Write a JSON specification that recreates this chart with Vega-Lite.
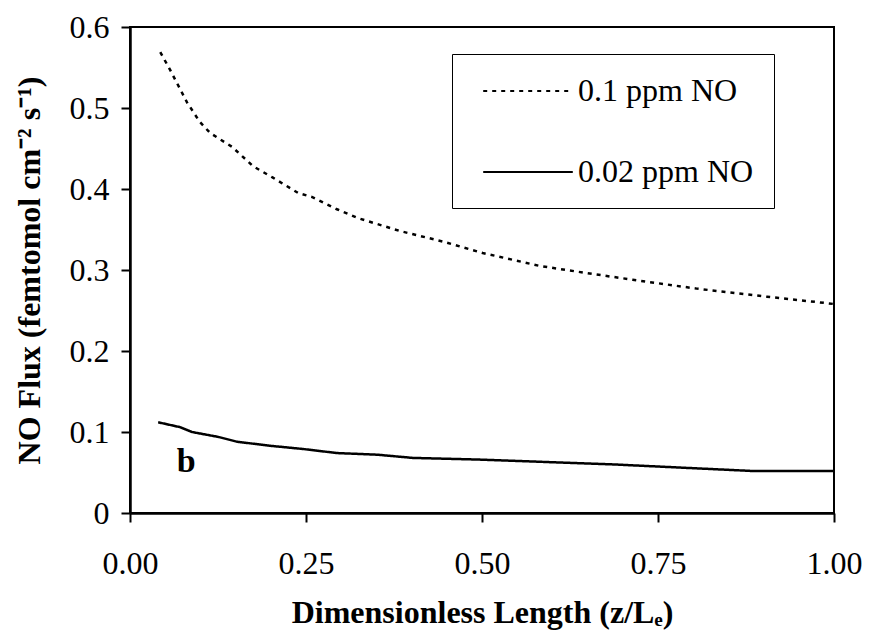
{
  "$schema": "https://vega.github.io/schema/vega-lite/v6.json",
  "width": 704,
  "height": 486,
  "autosize": {"type": "none"},
  "padding": {"left": 130, "top": 27, "right": 36, "bottom": 122},
  "background": "white",
  "config": {
    "font": "Liberation Serif",
    "view": {"stroke": "black", "strokeWidth": 2},
    "axis": {
      "grid": false,
      "domainColor": "black",
      "domainWidth": 2.5,
      "tickColor": "black",
      "tickWidth": 2,
      "tickSize": 9,
      "labelFontSize": 32,
      "labelColor": "black",
      "labelFlush": false,
      "labelOverlap": false,
      "labelBound": false,
      "titleFontSize": 32,
      "titleFontWeight": "bold",
      "titleColor": "black"
    },
    "legend": {
      "orient": "none",
      "legendX": 322,
      "legendY": 27,
      "strokeColor": "black",
      "fillColor": "white",
      "padding": 20,
      "symbolOffset": 39,
      "symbolType": "M-2.8,0L2.8,0",
      "symbolSize": 1024,
      "symbolStrokeWidth": 2,
      "symbolStrokeColor": "black",
      "labelFont": "Liberation Serif",
      "labelFontSize": 32,
      "labelColor": "black",
      "labelLimit": 400,
      "labelOffset": 33,
      "rowPadding": 48
    }
  },
  "datasets": {
    "curves": [
      {"series": "0.1 ppm NO", "z": 0.043, "flux": 0.569},
      {"series": "0.1 ppm NO", "z": 0.057, "flux": 0.547},
      {"series": "0.1 ppm NO", "z": 0.081, "flux": 0.507},
      {"series": "0.1 ppm NO", "z": 0.099, "flux": 0.483},
      {"series": "0.1 ppm NO", "z": 0.114, "flux": 0.469},
      {"series": "0.1 ppm NO", "z": 0.145, "flux": 0.452},
      {"series": "0.1 ppm NO", "z": 0.175, "flux": 0.428},
      {"series": "0.1 ppm NO", "z": 0.203, "flux": 0.414},
      {"series": "0.1 ppm NO", "z": 0.239, "flux": 0.395},
      {"series": "0.1 ppm NO", "z": 0.259, "flux": 0.39},
      {"series": "0.1 ppm NO", "z": 0.294, "flux": 0.375},
      {"series": "0.1 ppm NO", "z": 0.324, "flux": 0.364},
      {"series": "0.1 ppm NO", "z": 0.384, "flux": 0.348},
      {"series": "0.1 ppm NO", "z": 0.445, "flux": 0.335},
      {"series": "0.1 ppm NO", "z": 0.501, "flux": 0.321},
      {"series": "0.1 ppm NO", "z": 0.582, "flux": 0.305},
      {"series": "0.1 ppm NO", "z": 0.658, "flux": 0.295},
      {"series": "0.1 ppm NO", "z": 0.714, "flux": 0.288},
      {"series": "0.1 ppm NO", "z": 0.805, "flux": 0.277},
      {"series": "0.1 ppm NO", "z": 0.905, "flux": 0.267},
      {"series": "0.1 ppm NO", "z": 0.98, "flux": 0.26},
      {"series": "0.1 ppm NO", "z": 1.0, "flux": 0.258},
      {"series": "0.02 ppm NO", "z": 0.04, "flux": 0.112},
      {"series": "0.02 ppm NO", "z": 0.071, "flux": 0.106},
      {"series": "0.02 ppm NO", "z": 0.088, "flux": 0.1},
      {"series": "0.02 ppm NO", "z": 0.125, "flux": 0.094},
      {"series": "0.02 ppm NO", "z": 0.152, "flux": 0.088},
      {"series": "0.02 ppm NO", "z": 0.199, "flux": 0.083},
      {"series": "0.02 ppm NO", "z": 0.246, "flux": 0.079},
      {"series": "0.02 ppm NO", "z": 0.294, "flux": 0.074},
      {"series": "0.02 ppm NO", "z": 0.351, "flux": 0.072},
      {"series": "0.02 ppm NO", "z": 0.402, "flux": 0.068},
      {"series": "0.02 ppm NO", "z": 0.494, "flux": 0.066},
      {"series": "0.02 ppm NO", "z": 0.686, "flux": 0.06},
      {"series": "0.02 ppm NO", "z": 0.881, "flux": 0.052},
      {"series": "0.02 ppm NO", "z": 1.0, "flux": 0.052}
    ],
    "annot": [
      {"z": 0.08, "flux": 0.051, "label": "b"}
    ]
  },
  "layer": [
    {
      "data": {"name": "curves"},
      "mark": {"type": "line", "color": "black", "strokeWidth": 2.5},
      "encoding": {
        "x": {
          "field": "z",
          "type": "quantitative",
          "scale": {"domain": [0, 1], "nice": false, "zero": false},
          "axis": {
            "values": [0, 0.25, 0.5, 0.75, 1],
            "format": ".2f",
            "labelFont": "Liberation Serif",
            "titleFont": "Liberation Serif",
            "labelPadding": 26,
            "titlePadding": 18,
            "title": "Dimensionless Length (z/Lₑ)"
          }
        },
        "y": {
          "field": "flux",
          "type": "quantitative",
          "scale": {"domain": [0, 0.6], "nice": false},
          "axis": {
            "values": [0, 0.1, 0.2, 0.3, 0.4, 0.5, 0.6],
            "labelExpr": "datum.value == 0 ? '0' : format(datum.value, '.1f')",
            "labelFont": "Liberation Serif",
            "titleFont": "Liberation Serif",
            "labelPadding": 12,
            "titlePadding": 23,
            "title": "NO Flux (femtomol cm⁻² s⁻¹)"
          }
        },
        "strokeDash": {
          "field": "series",
          "type": "nominal",
          "scale": {"domain": ["0.1 ppm NO", "0.02 ppm NO"], "range": [[4, 5], [1, 0]]},
          "legend": {"title": null}
        }
      }
    },
    {
      "data": {"name": "annot"},
      "mark": {"type": "text", "font": "Liberation Serif", "fontWeight": "bold", "fontSize": 34, "baseline": "alphabetic", "align": "center", "color": "black"},
      "encoding": {
        "x": {"field": "z", "type": "quantitative"},
        "y": {"field": "flux", "type": "quantitative"},
        "text": {"field": "label"}
      }
    }
  ]
}
